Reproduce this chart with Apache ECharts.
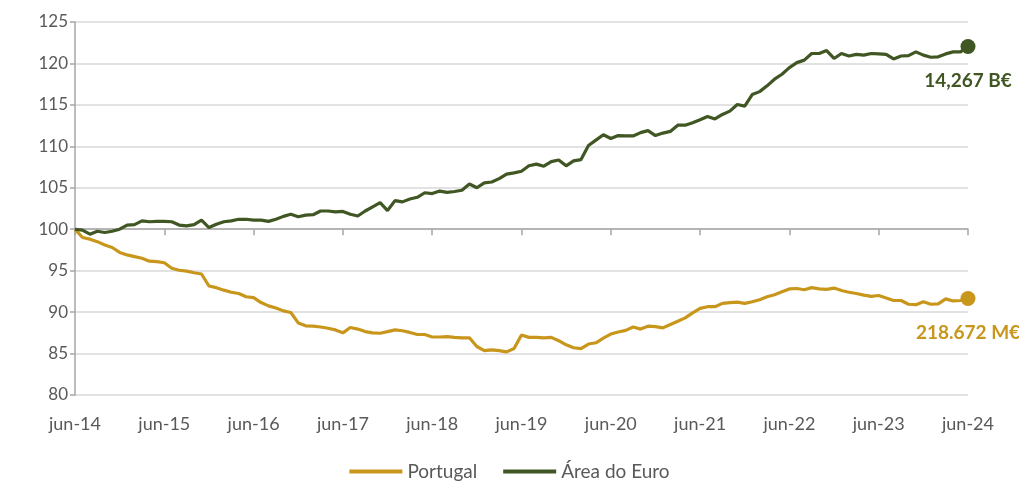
<!DOCTYPE html>
<html>
<head>
<meta charset="utf-8">
<script src="https://cdn.jsdelivr.net/npm/echarts@6/dist/echarts.min.js"></script>
<style>
  html, body { margin: 0; padding: 0; background: #fff; }
  #chart { width: 1019px; height: 483px; }
</style>
</head>
<body>
<div id="chart"></div>
<script>
// meses jun-14 .. jun-24
var mesesPT = ['jan', 'fev', 'mar', 'abr', 'mai', 'jun', 'jul', 'ago', 'set', 'out', 'nov', 'dez']
var meses = []
for (var i = 0; i <= 120; i++) {
  var m = (5 + i) % 12
  var a = 14 + Math.floor((5 + i) / 12)
  meses.push(mesesPT[m] + '-' + a)
}

var yTicks = [80, 85, 90, 95, 100, 105, 110, 115, 120, 125]

// índice (jun-14 = 100)
var portugal = [
  100, 99.0, 98.8, 98.5, 98.1, 97.8, 97.2, 96.9, 96.7, 96.5, 96.15, 96.1,
  95.95, 95.3, 95.05, 94.95, 94.75, 94.6, 93.15, 92.95, 92.65, 92.4, 92.25, 91.85,
  91.75, 91.15, 90.75, 90.5, 90.15, 89.95, 88.7, 88.35, 88.3, 88.2, 88.05, 87.85,
  87.5, 88.15, 87.95, 87.65, 87.5, 87.45, 87.65, 87.85, 87.75, 87.55, 87.3, 87.3,
  87.0, 87.0, 87.05, 86.95, 86.9, 86.9, 85.85, 85.35, 85.45, 85.35, 85.2, 85.6,
  87.25, 86.95, 86.95, 86.9, 86.95, 86.55, 86.05, 85.7, 85.6, 86.15, 86.3, 86.85,
  87.35, 87.6, 87.8, 88.2, 87.95, 88.3, 88.25, 88.1, 88.5, 88.9, 89.3, 89.9,
  90.45, 90.65, 90.65, 91.05, 91.15, 91.2, 91.05, 91.25, 91.5, 91.85, 92.1, 92.45,
  92.8, 92.85, 92.7, 92.95, 92.8, 92.75, 92.9, 92.6, 92.4, 92.25, 92.05, 91.9,
  92.0, 91.7, 91.4, 91.4, 90.95, 90.9, 91.25, 90.95, 91.0, 91.6, 91.35, 91.4,
  91.65
]

var areaEuro = [
  100, 99.9, 99.4, 99.75, 99.6, 99.75, 100.0, 100.5, 100.55, 101.0, 100.9, 100.95,
  100.95, 100.9, 100.5, 100.4, 100.55, 101.1, 100.2, 100.6, 100.9, 101.0, 101.2, 101.2,
  101.1, 101.1, 100.95, 101.2, 101.55, 101.8, 101.5, 101.7, 101.75, 102.2, 102.2, 102.1,
  102.15, 101.8, 101.6, 102.2, 102.7, 103.2, 102.25, 103.45, 103.3, 103.65, 103.85, 104.4,
  104.3, 104.6, 104.45, 104.55, 104.7, 105.45, 105.0, 105.6, 105.7, 106.1, 106.65, 106.8,
  107.0, 107.65, 107.85, 107.6, 108.15, 108.35, 107.65, 108.25, 108.4, 110.1, 110.75, 111.4,
  110.95, 111.3, 111.25, 111.25, 111.65, 111.9, 111.3, 111.6, 111.8, 112.55, 112.55, 112.85,
  113.2, 113.6, 113.3, 113.85, 114.25, 115.05, 114.85, 116.25, 116.6, 117.3, 118.1, 118.7,
  119.5, 120.1, 120.4, 121.2, 121.2, 121.55, 120.6, 121.2, 120.9, 121.1, 121.0, 121.2,
  121.15, 121.1, 120.55, 120.9, 120.95, 121.4, 121.0, 120.75, 120.8, 121.15, 121.4, 121.4,
  122.05
]

var nomes = ['Portugal', 'Área do Euro']
var rotulosFinais = ['218.672 M€', '14,267 B€']
var cores = ['#C9961C', '#405623']

var fonte = 'Lato, "Open Sans", sans-serif'
var cinzaTexto = '#595959'

// último ponto com marcador e rótulo
function comMarcador(valores, rotulo, cor) {
  return valores.map(function (v, i) {
    if (i !== valores.length - 1) return v
    return {
      value: v,
      symbol: 'circle',
      symbolSize: 15,
      label: {
        show: true,
        position: 'bottom',
        distance: 17,
        formatter: rotulo,
        color: cor,
        fontFamily: fonte,
        fontWeight: 'bold',
        fontSize: 19
      }
    }
  })
}

var myChart = echarts.init(document.getElementById('chart'))

var tickCada12 = function (i) { return i % 12 === 0 }

var option = {
  animation: false,
  grid: [
    { left: 75, right: 51, top: 22, bottom: 88 },
    // grelha auxiliar: o eixo horizontal cruza em 100
    { left: 75, right: 51, top: 22, bottom: 253.8 }
  ],
  legend: {
    bottom: -3,
    left: 'center',
    icon: 'rect',
    itemWidth: 53,
    itemHeight: 4,
    itemGap: 26,
    textStyle: { fontFamily: fonte, fontSize: 19, color: cinzaTexto },
    data: nomes
  },
  xAxis: [
    {
      type: 'category',
      gridIndex: 0,
      data: meses,
      boundaryGap: false,
      axisLine: { show: false },
      axisTick: { show: false },
      axisLabel: {
        interval: tickCada12,
        margin: 20,
        fontFamily: fonte,
        fontSize: 18,
        color: cinzaTexto
      }
    },
    {
      type: 'category',
      gridIndex: 1,
      data: meses,
      boundaryGap: false,
      axisLine: { show: true, lineStyle: { color: '#A6A6A6', width: 1.5 } },
      axisTick: { show: true, interval: tickCada12, length: 6, lineStyle: { color: '#A6A6A6', width: 1.5 } },
      axisLabel: { show: false }
    }
  ],
  yAxis: [
    {
      type: 'value',
      gridIndex: 0,
      min: yTicks[0],
      max: yTicks[yTicks.length - 1],
      interval: 5,
      axisLine: { show: true, lineStyle: { color: '#A6A6A6', width: 1.5 } },
      axisTick: { show: true, length: 5, lineStyle: { color: '#A6A6A6', width: 1.5 } },
      axisLabel: { margin: 7, fontFamily: fonte, fontSize: 17, color: cinzaTexto },
      splitLine: { lineStyle: { color: '#D9D9D9', width: 1.5 } }
    },
    { type: 'value', gridIndex: 1, show: false, min: 0, max: 1 }
  ],
  series: [
    {
      name: nomes[0],
      type: 'line',
      xAxisIndex: 0,
      yAxisIndex: 0,
      data: comMarcador(portugal, rotulosFinais[0], cores[0]),
      symbol: 'none',
      showSymbol: true,
      showAllSymbol: true,
      color: cores[0],
      lineStyle: { width: 3.2, color: cores[0] },
      z: 3
    },
    {
      name: nomes[1],
      type: 'line',
      xAxisIndex: 0,
      yAxisIndex: 0,
      data: comMarcador(areaEuro, rotulosFinais[1], cores[1]),
      symbol: 'none',
      showSymbol: true,
      showAllSymbol: true,
      color: cores[1],
      lineStyle: { width: 3.2, color: cores[1] },
      z: 4
    }
  ]
}

myChart.setOption(option)
</script>
</body>
</html>
